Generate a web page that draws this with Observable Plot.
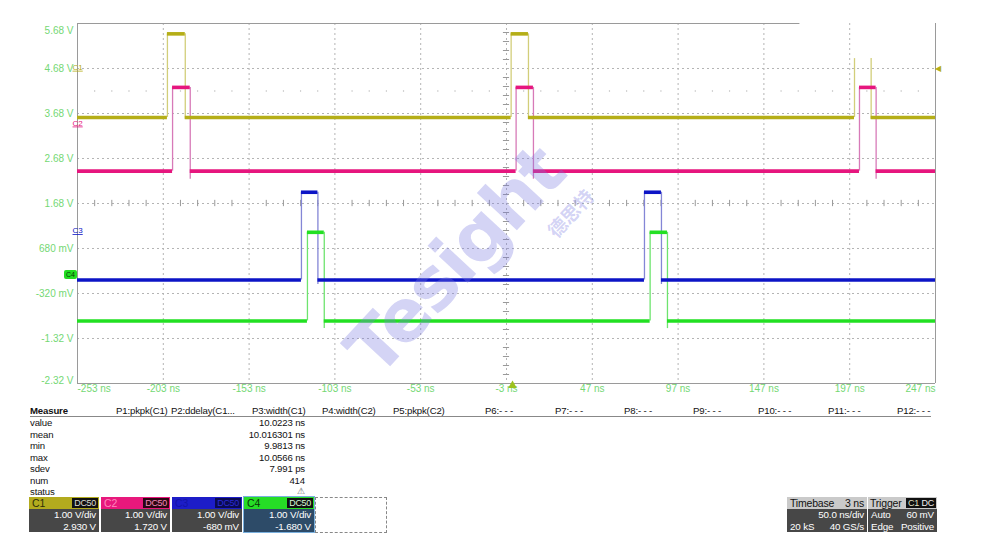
<!DOCTYPE html>
<html><head><meta charset="utf-8">
<script src="https://cdn.jsdelivr.net/npm/d3@7"></script>
<script src="https://cdn.jsdelivr.net/npm/@observablehq/plot@0.6"></script>
<style>
body{margin:0;background:#fff;}
#root{position:relative;width:982px;height:556px;overflow:hidden;font-family:"Liberation Sans",Arial,sans-serif;color:#111;}
#chart{position:absolute;left:0;top:0;}
.abs{position:absolute;white-space:nowrap;}
.mh{font-size:9.6px;line-height:12px;letter-spacing:-0.15px;}
.row{font-size:9.6px;line-height:11.5px;letter-spacing:-0.15px;}
.box{position:absolute;top:497px;height:35px;}
.hdr{position:absolute;left:0;right:0;top:0;height:12px;font-size:10.5px;line-height:12px;letter-spacing:-0.2px;}
.hdr .lab{position:absolute;left:3px;top:0;}
.hdr .badge{position:absolute;right:1px;top:1px;height:10px;font-size:9px;line-height:10px;padding:0 2px;letter-spacing:-0.3px;}
.body{position:absolute;left:0;right:0;top:12px;bottom:0;font-size:9.8px;line-height:11.5px;color:#fff;letter-spacing:-0.15px;}
.body .r{position:absolute;right:3px;}
.body .l{position:absolute;left:3px;}
.wm{position:absolute;pointer-events:none;color:rgba(120,120,225,0.32);font-weight:bold;transform-origin:center center;}
</style></head><body>
<div id="root"><div id="chart"></div></div>
<script>
// ---------- axis ticks ----------
const xTicks = [-253, -203, -153, -103, -53, -3, 47, 97, 147, 197, 247];
const xTickLabels = ["-253 ns","-203 ns","-153 ns","-103 ns","-53 ns","-3 ns","47 ns","97 ns","147 ns","197 ns","247 ns"];
const yTicks = [5.68, 4.68, 3.68, 2.68, 1.68, 0.68, -0.32, -1.32, -2.32];
const yTickLabels = ["5.68 V","4.68 V","3.68 V","2.68 V","1.68 V","680 mV","-320 mV","-1.32 V","-2.32 V"];

// ---------- channel traces (display volts, ns) ----------
const chNames = ["C1","C2","C3","C4"];
const chColors = ["#b5ae17","#e6167e","#0c14c6","#22e022"];
const chEdgeColors = ["#d2ce7a","#d77ab8","#8486d6","#6ee46e"];
const c1Low = 3.59, c1Top = [5.45, 5.45, 4.90], c1Rise = [-200.6, -0.3, 199.8], c1Fall = [-190.2, 9.8, 209.5], c1TopDrawn = [true, true, false], c1Under = 0.04;
const c2Low = 2.40, c2Top = [4.26, 4.26, 4.26], c2Rise = [-197.6, 2.6, 202.7], c2Fall = [-187.3, 12.7, 212.4], c2TopDrawn = [true, true, true], c2Under = 0.18;
const c3Low = -0.02, c3Top = [1.93, 1.93], c3Rise = [-122.5, 77.4], c3Fall = [-112.9, 87.3], c3TopDrawn = [true, true], c3Under = 0.10;
const c4Low = -0.93, c4Top = [1.04, 1.04], c4Rise = [-119.0, 80.7], c4Fall = [-109.2, 90.8], c4TopDrawn = [true, true], c4Under = 0.17;

// channel ground markers on the left edge and trigger
const chMarkerLevels = [4.71, 3.47, 1.08, 0.10];
const trigLevel = 4.68, trigTime = 0.5;
const dotRowLevel = 4.18;

// ---------- measurements / status ----------
const measHeaders = ["P1:pkpk(C1)","P2:ddelay(C1...","P3:width(C1)","P4:width(C2)","P5:pkpk(C2)","P6:- - -","P7:- - -","P8:- - -","P9:- - -","P10:- - -","P11:- - -","P12:- - -"];
const measRows = ["value","mean","min","max","sdev","num","status"];
const p3Values = ["10.0223 ns","10.016301 ns","9.9813 ns","10.0566 ns","7.991 ps","414","⚠"];
const chScale = ["1.00 V/div","1.00 V/div","1.00 V/div","1.00 V/div"];
const chOffset = ["2.930 V","1.720 V","-680 mV","-1.680 V"];
const chCoupling = ["DC50","DC50","DC50","DC50"];
const timebase = {delay:"3 ns", div:"50.0 ns/div", samples:"20 kS", rate:"40 GS/s"};
const trigger = {src:"C1", coup:"DC", mode:"Auto", level:"60 mV", type:"Edge", slope:"Positive"};

// ---------- build segments ----------
const flats = [], edges = [];
function addTrace(i, low, tops, rises, falls, drawTop, under) {
  const color = chColors[i], ecolor = chEdgeColors[i];
  let start = -253;
  rises.forEach((r, k) => {
    flats.push({a: start, b: r, v: low, color});
    if (drawTop[k]) flats.push({a: r, b: falls[k], v: tops[k], color});
    edges.push({t: r, v1: low, v2: tops[k], color: ecolor});
    edges.push({t: falls[k], v1: low - under, v2: tops[k], color: ecolor});
    start = falls[k];
  });
  flats.push({a: start, b: 247, v: low, color});
}
addTrace(0, c1Low, c1Top, c1Rise, c1Fall, c1TopDrawn, c1Under);
addTrace(1, c2Low, c2Top, c2Rise, c2Fall, c2TopDrawn, c2Under);
addTrace(2, c3Low, c3Top, c3Rise, c3Fall, c3TopDrawn, c3Under);
addTrace(3, c4Low, c4Top, c4Rise, c4Fall, c4TopDrawn, c4Under);

const xT = xTicks.map((v, i) => ({v, label: xTickLabels[i]}));
const yT = yTicks.map((v, i) => ({v, label: yTickLabels[i]}));
const minorX = d3.range(-243, 247, 10).filter(v => (v + 253) % 50 !== 0);
const minorY = d3.range(-2.12, 5.6, 0.2).filter(v => Math.abs(((v + 2.32) % 1)) > 0.05 && Math.abs(((v + 2.32) % 1) - 1) > 0.05);
const markers = chMarkerLevels.slice(0, 3).map((v, i) => ({v, name: chNames[i], color: chColors[i]}));

const green = "#74d874";
const grid = {stroke: "#b4b4b4", strokeDasharray: "2,3", strokeWidth: 1};

const plot = Plot.plot({
  width: 982, height: 400,
  marginLeft: 77, marginRight: 47, marginTop: 23, marginBottom: 17,
  x: {domain: [-253, 247], axis: null},
  y: {domain: [-2.32, 5.68], axis: null},
  color: {type: "identity"},
  style: {fontFamily: "Liberation Sans, Arial, sans-serif", background: "white", overflow: "visible"},
  marks: [
    Plot.ruleX(xTicks.slice(1, -1), grid),
    Plot.ruleY(yTicks.slice(1, -1), grid),
    Plot.ruleX(minorX, {x: d => d, y1: 1.68 - 0.07, y2: 1.68 + 0.07, stroke: "#999"}),
    Plot.ruleY(minorY, {y: d => d, x1: -3 - 1.8, x2: -3 + 1.8, stroke: "#999"}),
    Plot.dot(minorX, {x: d => d, y: dotRowLevel, r: 0.7, fill: "#bbb", stroke: null}),
    // frame
    Plot.ruleX([-253, 247], {stroke: "#9a9a9a"}),
    Plot.ruleY([-2.32], {stroke: "#9a9a9a"}),
    Plot.ruleY([5.68], {x1: -253, x2: 168, stroke: "#9a9a9a"}),
    // traces
    Plot.ruleX(edges, {x: "t", y1: "v1", y2: "v2", stroke: "color", strokeWidth: 1.3}),
    Plot.ruleY(flats, {y: "v", x1: "a", x2: "b", stroke: "color", strokeWidth: 3.6}),
    // tick labels
    Plot.text(yT.slice(1, -1), {y: "v", text: "label", frameAnchor: "left", dx: -4, textAnchor: "end", fill: green, fontSize: 10}),
    Plot.text(yT.slice(0, 1), {y: "v", text: "label", frameAnchor: "left", dx: -4, dy: 7, textAnchor: "end", fill: green, fontSize: 10}),
    Plot.text(yT.slice(-1), {y: "v", text: "label", frameAnchor: "left", dx: -4, dy: -3, textAnchor: "end", fill: green, fontSize: 10}),
    Plot.text(xT.slice(1, -1), {x: "v", text: "label", frameAnchor: "bottom", dy: 8, fill: green, fontSize: 10}),
    Plot.text(xT.slice(0, 1), {x: "v", text: "label", frameAnchor: "bottom", dy: 8, textAnchor: "start", fill: green, fontSize: 10}),
    Plot.text(xT.slice(-1), {x: "v", text: "label", frameAnchor: "bottom", dy: 8, textAnchor: "end", fill: green, fontSize: 10}),
    // channel markers
    Plot.text(markers, {y: "v", text: "name", fill: "color", frameAnchor: "left", dx: -5, fontSize: 8}),
    // trigger markers
    Plot.text([trigLevel], {y: d => d, text: ["◀"], frameAnchor: "right", dx: 5, fill: chColors[0], fontSize: 8}),
    Plot.dot([trigTime], {x: d => d, frameAnchor: "bottom", dy: 2, symbol: "triangle", r: 3.2, fill: "#9cc21e", stroke: null})
  ]
});
plot.querySelectorAll("text").forEach(t => { if (/^C[1-3]$/.test(t.textContent)) t.setAttribute("text-decoration", "underline"); });
const root = document.getElementById("root");
document.getElementById("chart").appendChild(plot);

function el(html) { const d = document.createElement("div"); d.innerHTML = html; const n = d.firstElementChild; root.appendChild(n); return n; }

// C4 selected marker
const yS = plot.scale("y");
el(`<div class="abs" style="left:64px;top:${yS.apply(chMarkerLevels[3]) - 4.5}px;width:13px;height:9px;background:#22dd22;border-radius:2px;font-size:7px;line-height:9px;text-align:center;color:#063806;">${chNames[3]}</div>`);

// watermark
el(`<div class="wm" style="left:285px;top:222px;width:340px;text-align:center;font-size:72px;line-height:76px;transform:rotate(-47deg);font-family:'DejaVu Sans',sans-serif;letter-spacing:-2px;">Tesight</div>`);
el(`<div class="wm" style="left:535px;top:202px;width:70px;text-align:center;font-size:19px;line-height:22px;transform:rotate(-47deg);font-family:'Noto Sans CJK SC',sans-serif;">德思特</div>`);

// measure table
el(`<div class="abs mh" style="left:30px;top:405px;font-weight:bold;">Measure</div>`);
const hx = [116, 171, 252, 322, 393, 485, 555, 624, 693, 758, 828, 897];
measHeaders.forEach((h, i) => el(`<div class="abs mh" style="left:${hx[i]}px;top:405px;">${h}</div>`));
el(`<div class="abs" style="left:30px;top:416px;width:901px;height:0;border-top:1px solid #888;"></div>`);
measRows.forEach((r, i) => {
  el(`<div class="abs row" style="left:30px;top:${417 + i * 11.5}px;">${r}</div>`);
  el(`<div class="abs row" style="right:${982 - 305}px;top:${417 + i * 11.5}px;${i === 6 ? 'color:#666;font-size:9px;' : ''}">${p3Values[i]}</div>`);
});

// channel boxes
const boxLeft = [29, 101, 172, 244], boxW = [70, 69, 70, 70];
const hdrBg = ["#b3ab1e", "#e8187c", "#1d1dc8", "#26dd26"];
const labCol = ["#2e2e08", "#ff86bd", "#1414a8", "#073807"];
const badgeBg = ["#101010", "#2a0612", "#0b0b50", "#101010"];
const badgeFg = ["#dcdcd0", "#f08ab8", "#2a2ad4", "#d8f8d8"];
const bodyBg = ["#474747", "#474747", "#474747", "#2d4b68"];
chNames.forEach((n, i) => {
  el(`<div class="box" style="left:${boxLeft[i]}px;width:${boxW[i]}px;${i === 3 ? 'outline:1px solid #7ab0de;' : ''}">
    <div class="hdr" style="background:${hdrBg[i]};"><span class="lab" style="color:${labCol[i]}">${n}</span><span class="badge" style="background:${badgeBg[i]};color:${badgeFg[i]}">${chCoupling[i]}</span></div>
    <div class="body" style="background:${bodyBg[i]};"><span class="r" style="top:0">${chScale[i]}</span><span class="r" style="top:11.5px">${chOffset[i]}</span></div>
  </div>`);
});
el(`<div class="abs" style="left:315px;top:497px;width:70px;height:34px;border:1px dashed #888;"></div>`);

// timebase & trigger
el(`<div class="box" style="left:787px;width:80px;">
  <div class="hdr" style="background:#cacaca;color:#111;"><span class="lab">Timebase</span><span class="abs" style="right:3px;top:0">${timebase.delay}</span></div>
  <div class="body" style="background:#474747;"><span class="r" style="top:0">${timebase.div}</span><span class="l" style="top:11.5px">${timebase.samples}</span><span class="r" style="top:11.5px">${timebase.rate}</span></div>
</div>`);
el(`<div class="box" style="left:868px;width:69px;">
  <div class="hdr" style="background:#cacaca;color:#111;"><span class="lab" style="left:2px">Trigger</span><span class="badge" style="right:16px;background:#101010;color:#e0e0c0;">${trigger.src}</span><span class="badge" style="background:#101010;color:#eee;">${trigger.coup}</span></div>
  <div class="body" style="background:#474747;"><span class="l" style="top:0">${trigger.mode}</span><span class="r" style="top:0">${trigger.level}</span><span class="l" style="top:11.5px">${trigger.type}</span><span class="r" style="top:11.5px">${trigger.slope}</span></div>
</div>`);
</script>
</body></html>
